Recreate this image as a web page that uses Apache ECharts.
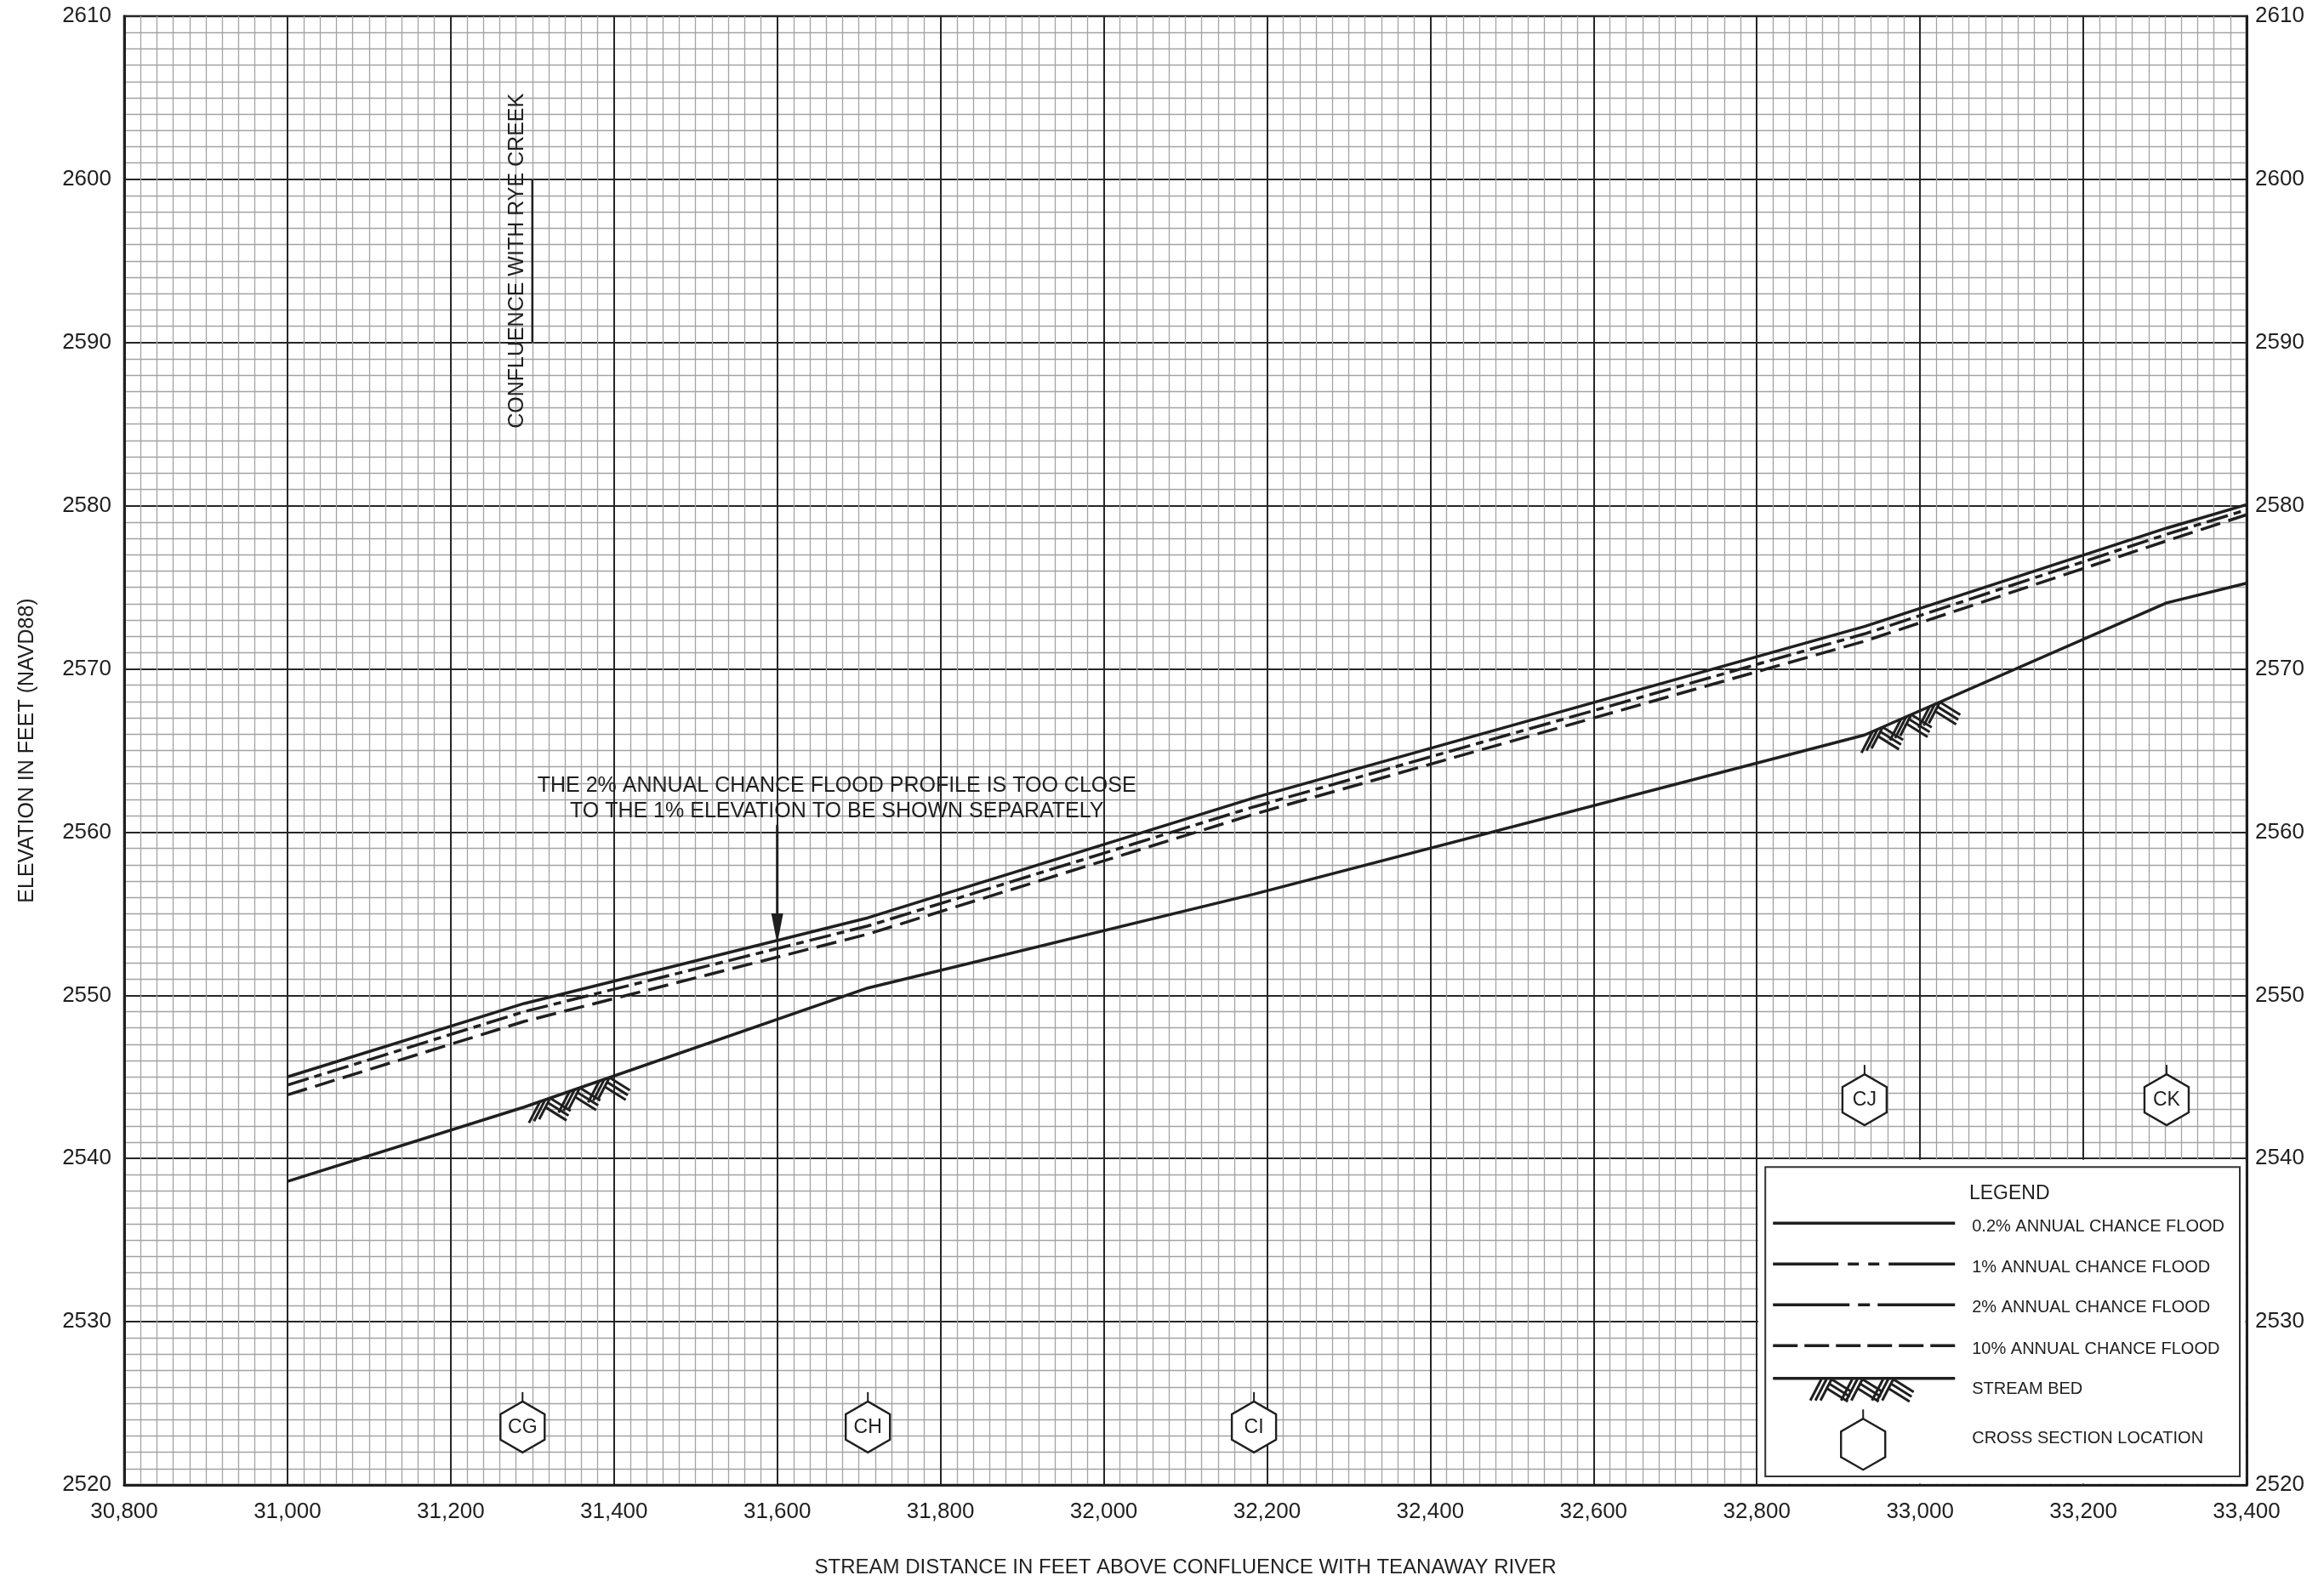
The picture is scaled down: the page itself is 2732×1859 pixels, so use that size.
<!DOCTYPE html>
<html>
<head>
<meta charset="utf-8">
<title>Flood profile</title>
<script src="https://cdn.jsdelivr.net/npm/echarts@6/dist/echarts.min.js"></script>
<style>
  html, body { margin: 0; padding: 0; background: #fff; }
  #chart { width: 2732px; height: 1859px; }
</style>
</head>
<body>
<div id="chart"></div>
<script>
// stream stations (ft above confluence) where the profiles break
var stations = [31000, 31290, 31711, 32184, 32932, 33302, 33400];
// water surface / bed elevations (ft NAVD88) at those stations
var flood02 = [2545.0, 2549.5, 2554.75, 2562.1, 2572.6, 2578.63, 2580.07];
var flood1 = [2544.5, 2549.0, 2554.25, 2561.55, 2572.15, 2578.25, 2579.75];
var flood10 = [2543.9, 2548.4, 2553.75, 2561.1, 2571.7, 2577.85, 2579.45];
var streamBed = [2538.6, 2543.15, 2550.45, 2556.2, 2565.95, 2574.05, 2575.25];

// cross section markers
var xsNames = ['CG', 'CH', 'CI', 'CJ', 'CK'];
var xsStations = [31288, 31711, 32184, 32932, 33302];
var xsMarkElev = [2523.55, 2523.55, 2523.55, 2543.6, 2543.6];

// stream bed hatching ranges
var hatchFrom = [31302, 32935];
var hatchTo = [31419, 33048];

// axes
var xMin = 30800, xMax = 33400, xStep = 200;
var yMin = 2520, yMax = 2610, yStep = 10;

// annotations
var ryeCreekStation = 31300;
var ryeCreekElev = [2590, 2600];
var noteStation = 31600;
var noteArrowElev = [2560.45, 2553.14];
var noteLines = ['THE 2% ANNUAL CHANCE FLOOD PROFILE IS TOO CLOSE', 'TO THE 1% ELEVATION TO BE SHOWN SEPARATELY'];

var legendLabels = ['0.2% ANNUAL CHANCE FLOOD', '1% ANNUAL CHANCE FLOOD', '2% ANNUAL CHANCE FLOOD',
    '10% ANNUAL CHANCE FLOOD', 'STREAM BED', 'CROSS SECTION LOCATION'];

var FONT = '"Liberation Sans", Arial, sans-serif';
var INK = '#1f1f1f';

function pairs(ys) {
    return stations.map(function (x, i) { return [x, ys[i]]; });
}

// bed elevation along a segment, only used to sit the hatching on the line
function bedAt(x) {
    for (var i = 0; i < stations.length - 1; i++) {
        if (x >= stations[i] && x <= stations[i + 1]) {
            var t = (x - stations[i]) / (stations[i + 1] - stations[i]);
            return streamBed[i] + t * (streamBed[i + 1] - streamBed[i]);
        }
    }
    return streamBed[streamBed.length - 1];
}

function seg(x1, y1, x2, y2, w) {
    return {
        type: 'line',
        shape: { x1: x1, y1: y1, x2: x2, y2: y2 },
        style: { stroke: INK, lineWidth: w || 3 }
    };
}

function hatchShapes(p0, p1) {
    var out = [];
    var dx = p1[0] - p0[0], dy = p1[1] - p0[1];
    var s = dy / dx;
    [0.17, 0.48, 0.79].forEach(function (t) {
        var ax = p0[0] + dx * t, ay = p0[1] + dy * t;
        for (var i = 0; i < 3; i++) {
            var tx = ax - i * 6, ty = ay - i * 6 * s;
            out.push(seg(tx, ty, tx - 13, ty + 25));
            var sx = ax - i * 2.4, sy = ay + i * 5.6;
            out.push(seg(sx, sy, sx + 24, sy + 15));
        }
    });
    return out;
}

function hexShapes(x, y, label) {
    var hw = 26, hh = 30, sh = 15;
    var kids = [
        {
            type: 'polygon',
            shape: { points: [[x, y - hh], [x + hw, y - sh], [x + hw, y + sh], [x, y + hh], [x - hw, y + sh], [x - hw, y - sh]] },
            style: { fill: '#fff', stroke: INK, lineWidth: 2.4 }
        },
        seg(x, y - hh, x, y - hh - 11, 2)
    ];
    if (label) {
        kids.push({
            type: 'text', x: x, y: y + 1,
            style: { text: label, fontSize: 23, fontFamily: FONT, fill: INK, align: 'center', verticalAlign: 'middle' }
        });
    }
    return kids;
}

var chart = echarts.init(document.getElementById('chart'));

var option = {
    animation: false,
    backgroundColor: '#fff',
    grid: {
        left: 146, right: 91, top: 19, bottom: 113,
        show: true, borderColor: INK, borderWidth: 2.5,
        containLabel: false, outerBoundsMode: 'none'
    },
    xAxis: {
        type: 'value',
        min: xMin, max: xMax, interval: xStep,
        name: 'STREAM DISTANCE IN FEET ABOVE CONFLUENCE WITH TEANAWAY RIVER',
        nameLocation: 'middle',
        nameGap: 85,
        nameTextStyle: { fontSize: 24, fontFamily: FONT, color: INK },
        axisLine: { show: true, lineStyle: { color: INK, width: 3 } },
        axisTick: { show: false },
        axisLabel: {
            margin: 19, fontSize: 26, fontFamily: FONT, color: INK,
            showMinLabel: true, showMaxLabel: true,
            formatter: function (v) { return v.toLocaleString('en-US'); }
        },
        splitLine: { show: true, lineStyle: { color: '#262626', width: 2 } },
        minorTick: { show: false, splitNumber: 10 },
        minorSplitLine: { show: true, lineStyle: { color: '#a3a3a3', width: 1.3 } }
    },
    yAxis: [{
        type: 'value',
        min: yMin, max: yMax, interval: yStep,
        name: 'ELEVATION IN FEET (NAVD88)',
        nameLocation: 'middle',
        nameGap: 101,
        nameTextStyle: { fontSize: 25, fontFamily: FONT, color: INK },
        axisLine: { show: true, lineStyle: { color: INK, width: 3 } },
        axisTick: { show: false },
        axisLabel: {
            margin: 15, fontSize: 26, fontFamily: FONT, color: INK, showMinLabel: true, showMaxLabel: true,
            formatter: function (v) { return String(v); }
        },
        splitLine: { show: true, lineStyle: { color: '#262626', width: 2 } },
        minorTick: { show: false, splitNumber: 10 },
        minorSplitLine: { show: true, lineStyle: { color: '#a3a3a3', width: 1.3 } }
    }, {
        type: 'value',
        position: 'right',
        min: yMin, max: yMax, interval: yStep,
        axisLine: { show: true, lineStyle: { color: INK, width: 3 } },
        axisTick: { show: false },
        axisLabel: {
            margin: 10, fontSize: 26, fontFamily: FONT, color: INK, showMinLabel: true, showMaxLabel: true,
            formatter: function (v) { return String(v); }
        },
        splitLine: { show: false }
    }],
    series: [{
        name: '0.2% ANNUAL CHANCE FLOOD',
        type: 'line',
        data: pairs(flood02),
        showSymbol: false, symbol: 'none',
        lineStyle: { color: INK, width: 3.5 },
        z: 5
    }, {
        name: '1% ANNUAL CHANCE FLOOD',
        type: 'line',
        data: pairs(flood1),
        showSymbol: false, symbol: 'none',
        lineStyle: { color: INK, width: 3.5, type: [26, 7, 9, 7], cap: 'butt' },
        z: 5
    }, {
        name: '10% ANNUAL CHANCE FLOOD',
        type: 'line',
        data: pairs(flood10),
        showSymbol: false, symbol: 'none',
        lineStyle: { color: INK, width: 3.5, type: [24, 10], cap: 'butt' },
        z: 5
    }, {
        name: 'STREAM BED',
        type: 'line',
        data: pairs(streamBed),
        showSymbol: false, symbol: 'none',
        lineStyle: { color: INK, width: 3.5 },
        z: 5
    }, {
        name: 'bed hatch',
        type: 'custom',
        data: hatchFrom.map(function (x, i) { return [x, hatchTo[i]]; }),
        encode: { x: [0, 1] },
        renderItem: function (params, api) {
            var a = api.value(0), b = api.value(1);
            var p0 = api.coord([a, bedAt(a)]);
            var p1 = api.coord([b, bedAt(b)]);
            return { type: 'group', children: hatchShapes(p0, p1) };
        },
        z: 6
    }, {
        name: 'cross sections',
        type: 'custom',
        data: xsStations.map(function (x, i) { return [x, xsMarkElev[i]]; }),
        renderItem: function (params, api) {
            var c = api.coord([api.value(0), api.value(1)]);
            return { type: 'group', children: hexShapes(c[0], c[1], xsNames[params.dataIndex]) };
        },
        z: 6
    }]
};
chart.setOption(option);

// annotations and the legend panel, placed from data coordinates
function px(x, y) {
    return chart.convertToPixel({ gridIndex: 0 }, [x, y]);
}

var g = [];

// Rye Creek confluence
var r0 = px(ryeCreekStation, ryeCreekElev[0]);
var r1 = px(ryeCreekStation, ryeCreekElev[1]);
g.push(seg(r0[0], r0[1], r1[0], r1[1], 2.5));
g.push({
    type: 'text', x: r0[0] - 18, y: (r0[1] + r1[1]) / 2, rotation: Math.PI / 2,
    style: { text: 'CONFLUENCE WITH RYE CREEK', fontSize: 25, fontFamily: FONT, fill: INK, align: 'center', verticalAlign: 'middle' }
});

// 2% note + arrow
var a0 = px(noteStation, noteArrowElev[0]);
var a1 = px(noteStation, noteArrowElev[1]);
g.push(seg(a0[0], a0[1], a1[0], a1[1] - 30, 3));
g.push({
    type: 'polygon',
    shape: { points: [[a1[0] - 7, a1[1] - 36], [a1[0] + 7, a1[1] - 36], [a1[0], a1[1]]] },
    style: { fill: INK }
});
g.push({
    type: 'text', x: a0[0] + 70, y: a0[1] - 46,
    style: { text: noteLines[0], fontSize: 25, fontFamily: FONT, fill: INK, align: 'center', verticalAlign: 'middle' }
});
g.push({
    type: 'text', x: a0[0] + 70, y: a0[1] - 16,
    style: { text: noteLines[1], fontSize: 25, fontFamily: FONT, fill: INK, align: 'center', verticalAlign: 'middle' }
});

// legend block in the lower right corner of the grid
var L = px(32800, 2540);
var R = px(33400, 2520);
g.push({
    type: 'rect',
    shape: { x: L[0] + 1.5, y: L[1] + 1.5, width: R[0] - L[0] - 3, height: R[1] - L[1] - 3 },
    style: { fill: '#fff' }
});
g.push({
    type: 'rect',
    shape: { x: L[0] + 10, y: L[1] + 10, width: R[0] - L[0] - 18, height: R[1] - L[1] - 20 },
    style: { fill: '#fff', stroke: '#333', lineWidth: 2 }
});
g.push({
    type: 'text', x: L[0] + 297, y: L[1] + 41,
    style: { text: 'LEGEND', fontSize: 23, fontFamily: FONT, fill: INK, align: 'center', verticalAlign: 'middle' }
});

var sx0 = L[0] + 19, sx1 = L[0] + 233;
var rowY = [76, 124, 172, 220, 258.5];
var dashes = [null, [77, 11, 13, 11, 13, 11, 200], [90, 10, 14, 9, 200], [29, 8], null];
rowY.forEach(function (dy, i) {
    var ln = seg(sx0, L[1] + dy, sx1, L[1] + dy, 3.5);
    if (dashes[i]) { ln.style.lineDash = dashes[i]; }
    ln.style.lineCap = 'butt';
    g.push(ln);
});
hatchShapes([L[0] + 68, L[1] + 259.5], [L[0] + 185, L[1] + 259.5]).forEach(function (h) { g.push(h); });
hexShapes(L[0] + 125, L[1] + 336, null).forEach(function (h) { g.push(h); });

var labelY = [80, 128, 175, 224, 271, 329];
legendLabels.forEach(function (t, i) {
    g.push({
        type: 'text', x: L[0] + 253, y: L[1] + labelY[i],
        style: { text: t, fontSize: 20, fontFamily: FONT, fill: INK, align: 'left', verticalAlign: 'middle' }
    });
});

g.forEach(function (el) { el.z = 100; });
chart.setOption({ graphic: g });
</script>
</body>
</html>
